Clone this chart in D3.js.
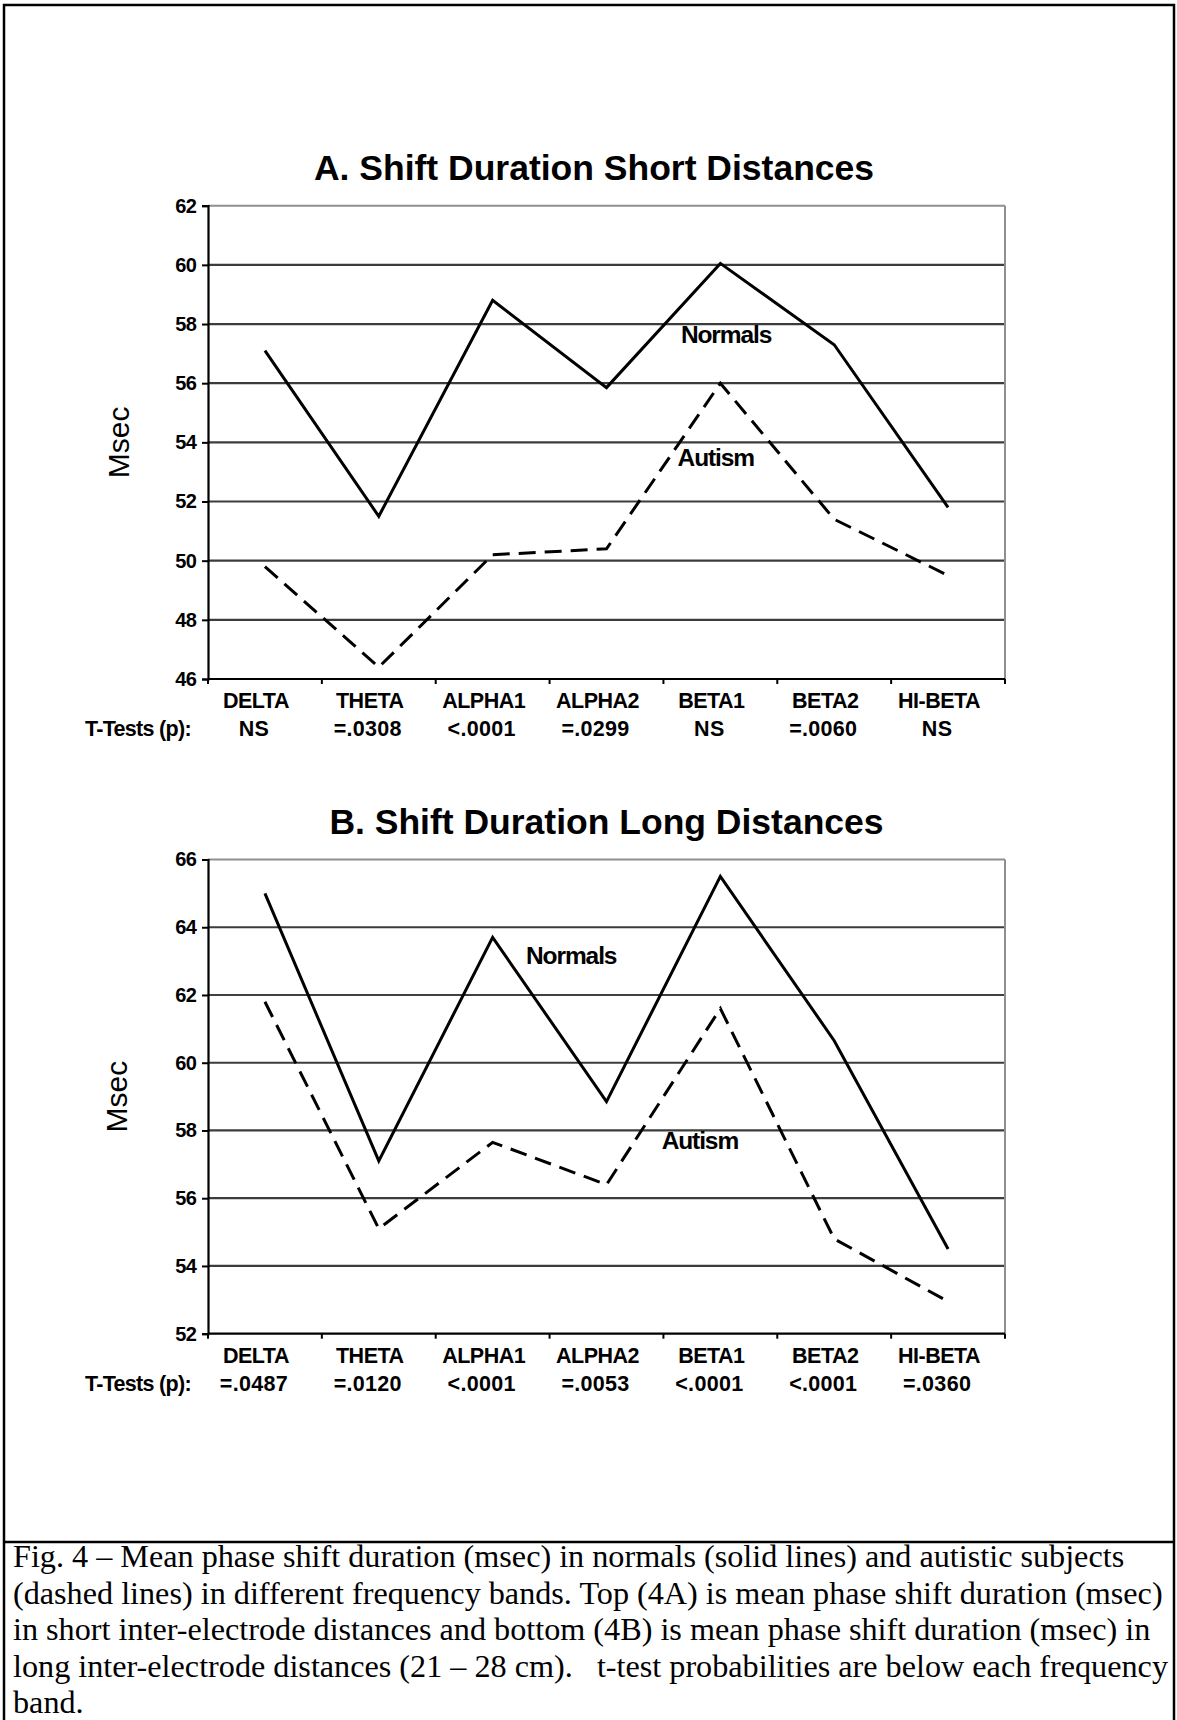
<!DOCTYPE html>
<html>
<head>
<meta charset="utf-8">
<script src="https://cdn.jsdelivr.net/npm/d3@7"></script>
<style>
  html, body { margin: 0; padding: 0; background: #fff; }
  svg { display: block; }
</style>
</head>
<body>
<svg id="fig" width="1177" height="1720"></svg>
<script>
// Frequency bands shared by both panels
const bands = ["DELTA", "THETA", "ALPHA1", "ALPHA2", "BETA1", "BETA2", "HI-BETA"];

// Panel A: short inter-electrode distances (msec)
const shortNormals = [57.1, 51.5, 58.8, 55.85, 60.05, 57.3, 51.8];
const shortAutism  = [49.8, 46.4, 50.2, 50.4, 56.0, 51.4, 49.5];
const shortPValues = ["NS", "=.0308", "<.0001", "=.0299", "NS", "=.0060", "NS"];
const shortTicks   = [46, 48, 50, 52, 54, 56, 58, 60, 62];

// Panel B: long inter-electrode distances (msec)
const longNormals = [65.0, 57.1, 63.7, 58.85, 65.5, 60.65, 54.5];
const longAutism  = [61.8, 55.1, 57.65, 56.4, 61.6, 54.8, 52.95];
const longPValues = ["=.0487", "=.0120", "<.0001", "=.0053", "<.0001", "<.0001", "=.0360"];
const longTicks   = [52, 54, 56, 58, 60, 62, 64, 66];

const captionLines = [
  "Fig. 4 \u2013 Mean phase shift duration (msec) in normals (solid lines) and autistic subjects",
  "(dashed lines) in different frequency bands. Top (4A) is mean phase shift duration (msec)",
  "in short inter-electrode distances and bottom (4B) is mean phase shift duration (msec) in",
  "long inter-electrode distances (21 \u2013 28 cm).   t-test probabilities are below each frequency",
  "band."
];

const SANS = "'Liberation Sans', Arial, sans-serif";
const SERIF = "'Liberation Serif', 'Times New Roman', serif";

const svg = d3.select("#fig");

// outer frame and caption separator
svg.append("rect")
  .attr("x", 4).attr("y", 5).attr("width", 1170).attr("height", 1730)
  .attr("fill", "none").attr("stroke", "#000").attr("stroke-width", 2.5);
svg.append("line")
  .attr("x1", 4).attr("x2", 1174).attr("y1", 1542).attr("y2", 1542)
  .attr("stroke", "#000").attr("stroke-width", 2.5);

const plotLeft = 208, plotRight = 1005;

function drawPanel(cfg) {
  const g = svg.append("g");
  const x = d3.scalePoint().domain(bands).range([plotLeft, plotRight]).padding(0.5);
  const xi = d3.scaleLinear().domain([-0.5, bands.length - 0.5]).range([plotLeft, plotRight]);
  const y = d3.scaleLinear().domain(cfg.domain).range([cfg.bottom, cfg.top]);

  // title
  g.append("text")
    .attr("x", cfg.titleX).attr("y", cfg.top - 26)
    .attr("text-anchor", "middle")
    .attr("font-family", SANS).attr("font-weight", "bold")
    .attr("font-size", 35.5)
    .text(cfg.title);

  // horizontal gridlines
  const maxV = cfg.domain[1];
  g.append("g").selectAll("line")
    .data(cfg.ticks.filter(t => t !== cfg.domain[0]))
    .join("line")
    .attr("x1", plotLeft).attr("x2", plotRight)
    .attr("y1", d => y(d)).attr("y2", d => y(d))
    .attr("stroke", d => d === maxV ? "#8f8f8f" : (d === cfg.accent ? "#000" : "#3c3c3c"))
    .attr("stroke-width", d => d === maxV ? 2 : (d === cfg.accent ? 1.3 : 2.2));

  // right border of the plot area
  g.append("line")
    .attr("x1", plotRight).attr("x2", plotRight)
    .attr("y1", cfg.top).attr("y2", cfg.bottom)
    .attr("stroke", "#8f8f8f").attr("stroke-width", 2);

  // y axis
  const yAxis = d3.axisLeft(y).tickValues(cfg.ticks).tickSize(6).tickPadding(6).tickFormat(d3.format("d"));
  const ya = g.append("g").attr("transform", `translate(${plotLeft},0)`).call(yAxis);
  ya.select(".domain").attr("stroke", "#000").attr("stroke-width", 2.2);
  ya.selectAll(".tick line").attr("stroke", "#000").attr("stroke-width", 2);
  ya.selectAll(".tick text")
    .attr("font-family", SANS).attr("font-weight", "bold")
    .attr("font-size", 20).attr("letter-spacing", -0.8).attr("fill", "#000");

  // x axis with ticks on band boundaries
  g.append("line")
    .attr("x1", plotLeft).attr("x2", plotRight)
    .attr("y1", cfg.bottom).attr("y2", cfg.bottom)
    .attr("stroke", "#000").attr("stroke-width", 2.2);
  g.append("g").selectAll("line")
    .data(d3.range(bands.length + 1))
    .join("line")
    .attr("x1", i => xi(i - 0.5)).attr("x2", i => xi(i - 0.5))
    .attr("y1", cfg.bottom).attr("y2", cfg.bottom + 5)
    .attr("stroke", "#000").attr("stroke-width", 2);

  // band labels and t-test probabilities
  g.append("g").selectAll("text")
    .data(bands)
    .join("text")
    .attr("x", d => x(d) - 9).attr("y", cfg.bottom + 29)
    .attr("text-anchor", "middle")
    .attr("font-family", SANS).attr("font-weight", "bold")
    .attr("font-size", 21.5).attr("letter-spacing", -0.5)
    .text(d => d);
  g.append("text")
    .attr("x", 85).attr("y", cfg.bottom + 57)
    .attr("font-family", SANS).attr("font-weight", "bold")
    .attr("font-size", 21.5).attr("letter-spacing", -0.7)
    .text("T-Tests (p):");
  g.append("g").selectAll("text")
    .data(cfg.pvalues)
    .join("text")
    .attr("x", (d, i) => x(bands[i]) - 11).attr("y", cfg.bottom + 57)
    .attr("text-anchor", "middle")
    .attr("font-family", SANS).attr("font-weight", "bold")
    .attr("font-size", 21.5).attr("letter-spacing", 0.3)
    .text(d => d);

  // y axis title
  const midY = (cfg.top + cfg.bottom) / 2;
  g.append("text")
    .attr("transform", `translate(${cfg.msecX},${midY}) rotate(-90)`)
    .attr("text-anchor", "middle").attr("dominant-baseline", "central")
    .attr("font-family", SANS).attr("font-size", 30)
    .text("Msec");

  // series lines
  const line = d3.line().x((d, i) => x(bands[i])).y(d => y(d));
  g.append("path")
    .datum(cfg.normals)
    .attr("d", line)
    .attr("fill", "none").attr("stroke", "#000").attr("stroke-width", 3)
    .attr("stroke-linejoin", "miter");
  g.append("path")
    .datum(cfg.autism)
    .attr("d", line)
    .attr("fill", "none").attr("stroke", "#000").attr("stroke-width", 3)
    .attr("stroke-dasharray", "17,9");

  // series labels
  g.append("g").selectAll("text")
    .data(cfg.labels)
    .join("text")
    .attr("x", d => xi(d.at)).attr("y", d => y(d.value))
    .attr("text-anchor", "middle").attr("dominant-baseline", "central")
    .attr("font-family", SANS).attr("font-weight", "bold")
    .attr("font-size", 24.5).attr("letter-spacing", -1.1)
    .text(d => d.text);
}

drawPanel({
  title: "A. Shift Duration Short Distances",
  titleX: 594,
  domain: [46, 62], ticks: shortTicks,
  top: 205.7, bottom: 679,
  normals: shortNormals, autism: shortAutism, pvalues: shortPValues,
  msecX: 118,
  accent: null,
  labels: [
    { text: "Normals", at: 4.05, value: 57.63 },
    { text: "Autism",  at: 3.96, value: 53.5 }
  ]
});

drawPanel({
  title: "B. Shift Duration Long Distances",
  titleX: 606.5,
  domain: [52, 66], ticks: longTicks,
  top: 859.5, bottom: 1333.7,
  normals: longNormals, autism: longAutism, pvalues: longPValues,
  msecX: 116,
  accent: 62,
  labels: [
    { text: "Normals", at: 2.69, value: 63.16 },
    { text: "Autism",  at: 3.82, value: 57.7 }
  ]
});

// caption
svg.append("g")
  .selectAll("text")
  .data(captionLines)
  .join("text")
  .attr("x", 13).attr("y", (d, i) => 1567 + i * 36.6)
  .attr("font-family", SERIF).attr("font-size", 32.2)
  .attr("xml:space", "preserve")
  .style("white-space", "pre")
  .text(d => d);
</script>
</body>
</html>
